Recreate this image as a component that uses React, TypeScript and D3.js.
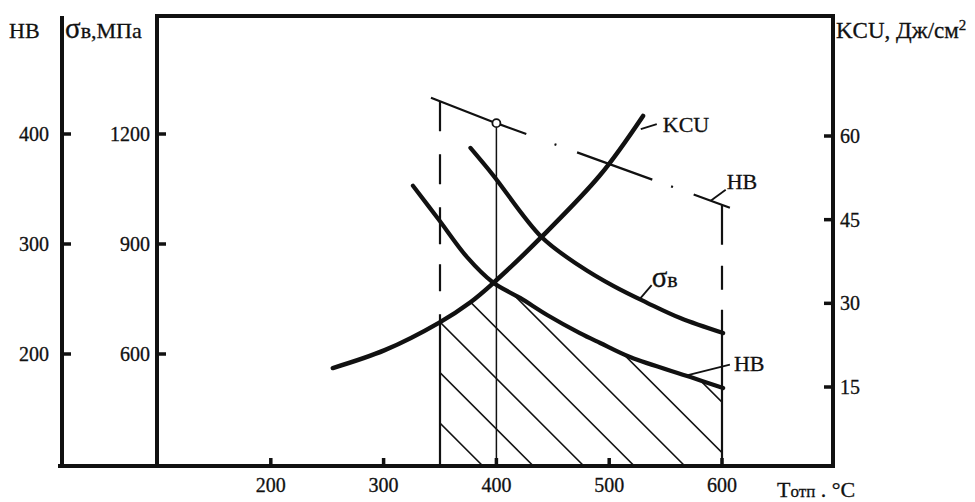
import * as React from "react";
import * as d3 from "d3";

// axis ticks
const tempTicks = [200, 300, 400, 500, 600];
const hbTicks = [200, 300, 400];
const sigmaTicks = [600, 900, 1200];
const kcuTicks = [15, 30, 45, 60];

// KCU, J/cm2 vs tempering temperature
const kcuTemp = [255, 301, 349, 377, 397, 440, 492, 530];
const kcuValue = [18.4, 21.6, 26.5, 30.2, 33.6, 41.9, 53.0, 63.6];

// sigma_b, MPa
const sigmaTemp = [377, 397, 440, 474, 504, 534, 563, 601];
const sigmaValue = [1162, 1088, 919, 840, 785, 739, 698, 657];

// HB (lower curve)
const hbTemp = [326, 349, 374, 397, 421, 445, 474, 492, 519, 572, 601];
const hbValue = [353, 322, 288, 265, 251, 235.5, 219, 210, 197, 179, 169];

// HB (upper dash-dot line)
const hbTopTemp = [342, 397, 607];
const hbTopValue = [433, 411, 333];

const zoneFrom = 350;
const zoneTo = 600;
const markTemp = 400;

const W = 975;
const H = 502;
const FONT = "'Liberation Serif', 'Times New Roman', serif";

export default function App() {
  const xLeftOuter = 62;
  const xLeftInner = 157;
  const xRight = 833;
  const yBottom = 466;
  const yTop = 16;

  const x = d3.scaleLinear().domain([350, 600]).range([440, 722]);
  const yHB = d3.scaleLinear().domain([200, 400]).range([354, 134]);
  const ySig = d3.scaleLinear().domain([600, 1200]).range([354, 134]);
  const yKCU = d3.scaleLinear().domain([15, 60]).range([387, 136]);

  const kcuAt = d3.scaleLinear().domain(kcuTemp).range(kcuValue);
  const hbAt = d3.scaleLinear().domain(hbTemp).range(hbValue);
  const sigAt = d3.scaleLinear().domain(sigmaTemp).range(sigmaValue);
  const hbTopAt = d3.scaleLinear().domain(hbTopTemp).range(hbTopValue);

  const curve = (ts: number[], vs: number[], ys: d3.ScaleLinear<number, number>) =>
    d3
      .line<number>()
      .x((t) => x(t))
      .y((_, i) => ys(vs[i]))
      .curve(d3.curveCatmullRom.alpha(0.5))(ts) as string;

  const kcuPath = curve(kcuTemp, kcuValue, yKCU);
  const sigPath = curve(sigmaTemp, sigmaValue, ySig);
  const hbPath = curve(hbTemp, hbValue, yHB);
  const hbTopPath = d3
    .line<number>()
    .x((t) => x(t))
    .y((_, i) => yHB(hbTopValue[i]))(hbTopTemp) as string;

  // hatched zone: under the lower of KCU and HB curves, between 350 and 600
  const topEdge = d3.range(zoneFrom, zoneTo + 0.5, 1).map((t) => [
    x(t),
    Math.max(yKCU(kcuAt(t)), yHB(hbAt(t))),
  ]);
  const clipPts = [[x(zoneFrom), yBottom], ...topEdge, [x(zoneTo), yBottom]];
  const clipD = "M" + clipPts.map((p) => p.join(",")).join("L") + "Z";

  const hatchStep = 50.5;
  const hatchOrigin = x(388);
  const hatch = d3.range(-1, 9).map((k) => hatchOrigin + k * hatchStep);

  const yTop350 = yHB(hbTopAt(zoneFrom));
  const yTop600 = yHB(hbTopAt(zoneTo));
  const yMark = yHB(hbTopAt(markTemp));

  const axisW = 4;
  const tickLen = 9;

  const sigLead = [x(527), ySig(sigAt(527))];
  const hbLead = [x(568), yHB(hbAt(568))];
  const kcuLead = [x(528), yKCU(kcuAt(528))];
  const hbTopLead = [x(590), yHB(hbTopAt(590))];

  const ink = "#111";

  return (
    <svg
      width={W}
      height={H}
      style={{ position: "absolute", left: 0, top: 0, background: "#fff" }}
      fontFamily={FONT}
    >
      <rect width={W} height={H} fill="#fff" />
      <defs>
        <clipPath id="zone">
          <path d={clipD} />
        </clipPath>
      </defs>

      {/* hatching */}
      <g clipPath="url(#zone)" stroke={ink} strokeWidth={1.6}>
        {hatch.map((b, i) => (
          <line key={i} x1={b} y1={yBottom} x2={b - 440} y2={yBottom - 440} />
        ))}
      </g>

      {/* vertical guides */}
      <line
        x1={x(zoneFrom)}
        y1={yTop350}
        x2={x(zoneFrom)}
        y2={yBottom}
        stroke={ink}
        strokeWidth={2.2}
        strokeDasharray="30 23 30 23 37 20 27 23 300"
      />
      <line
        x1={x(zoneTo)}
        y1={yTop600}
        x2={x(zoneTo)}
        y2={yBottom}
        stroke={ink}
        strokeWidth={2.2}
        strokeDasharray="40 21 24 20 300"
      />
      <line
        x1={x(markTemp)}
        y1={yMark + 4}
        x2={x(markTemp)}
        y2={yBottom}
        stroke={ink}
        strokeWidth={1.5}
      />

      {/* curves */}
      <path
        d={hbTopPath}
        fill="none"
        stroke={ink}
        strokeWidth={2.2}
        strokeDasharray="102 30 2 22 80 20 2 22 60"
      />
      <circle cx={x(markTemp)} cy={yMark} r={4} fill="#fff" stroke={ink} strokeWidth={1.8} />
      <path d={kcuPath} fill="none" stroke={ink} strokeWidth={4.5} strokeLinecap="round" />
      <path d={sigPath} fill="none" stroke={ink} strokeWidth={4.2} strokeLinecap="round" />
      <path d={hbPath} fill="none" stroke={ink} strokeWidth={4.2} strokeLinecap="round" />

      {/* axes */}
      <g stroke={ink} strokeWidth={axisW} fill="none" strokeLinecap="square">
        <line x1={xLeftOuter} y1={yTop + 2} x2={xLeftOuter} y2={yBottom} />
        <line x1={xLeftInner} y1={yTop} x2={xLeftInner} y2={yBottom} />
        <line x1={xLeftInner} y1={yTop} x2={xRight} y2={yTop} />
        <line x1={xRight} y1={yTop} x2={xRight} y2={yBottom} />
        <line x1={xLeftOuter - 2} y1={yBottom} x2={xRight} y2={yBottom} />
      </g>
      <g stroke={ink} strokeWidth={3.5}>
        {hbTicks.map((v) => (
          <line key={v} x1={xLeftOuter} y1={yHB(v)} x2={xLeftOuter + tickLen} y2={yHB(v)} />
        ))}
        {sigmaTicks.map((v) => (
          <line key={v} x1={xLeftInner} y1={ySig(v)} x2={xLeftInner + tickLen} y2={ySig(v)} />
        ))}
        {kcuTicks.map((v) => (
          <line key={v} x1={xRight} y1={yKCU(v)} x2={xRight - tickLen} y2={yKCU(v)} />
        ))}
        {tempTicks.map((t) => (
          <line key={t} x1={x(t)} y1={yBottom} x2={x(t)} y2={yBottom - 8} />
        ))}
      </g>

      {/* tick labels */}
      <g fontSize={20} fill={ink} stroke={ink} strokeWidth={0.3}>
        {hbTicks.map((v) => (
          <text key={v} x={49} y={yHB(v)} dy="0.35em" textAnchor="end">
            {v}
          </text>
        ))}
        {sigmaTicks.map((v) => (
          <text key={v} x={150} y={ySig(v)} dy="0.35em" textAnchor="end">
            {v}
          </text>
        ))}
        {kcuTicks.map((v) => (
          <text key={v} x={840} y={yKCU(v)} dy="0.35em" textAnchor="start">
            {v}
          </text>
        ))}
        {tempTicks.map((t) => (
          <text key={t} x={x(t)} y={492} textAnchor="middle">
            {t}
          </text>
        ))}
      </g>

      {/* axis titles */}
      <g fontSize={22} fill={ink} stroke={ink} strokeWidth={0.3}>
        <text x={9} y={38}>HB</text>
        <text x={65} y={38}>
          <tspan fontSize={29}>σ</tspan>в,МПа
        </text>
        <text x={836} y={38} fontSize={23}>
          KCU, Дж/см<tspan fontSize={15} dy={-8}>2</tspan>
        </text>
        <text x={777} y={497}>
          T<tspan fontSize={17}>отп</tspan> . °C
        </text>
      </g>

      {/* curve labels */}
      <g stroke={ink} strokeWidth={1.8}>
        <line x1={kcuLead[0]} y1={kcuLead[1] + 10} x2={kcuLead[0] + 16} y2={kcuLead[1] + 5} />
        <line x1={sigLead[0]} y1={sigLead[1]} x2={sigLead[0] + 12} y2={sigLead[1] - 14} />
        <line x1={hbLead[0]} y1={hbLead[1]} x2={hbLead[0] + 44} y2={hbLead[1] - 11} />
        <line x1={hbTopLead[0]} y1={hbTopLead[1]} x2={hbTopLead[0] + 15} y2={hbTopLead[1] - 11} />
      </g>
      <g fontSize={22} fill={ink} stroke={ink} strokeWidth={0.3}>
        <text x={kcuLead[0] + 22} y={kcuLead[1] + 13}>KCU</text>
        <text x={sigLead[0] + 12} y={sigLead[1] - 12}>
          <tspan fontSize={29}>σ</tspan>в
        </text>
        <text x={hbLead[0] + 48} y={hbLead[1] - 5}>HB</text>
        <text x={hbTopLead[0] + 16} y={hbTopLead[1] - 12}>HB</text>
      </g>
    </svg>
  );
}
